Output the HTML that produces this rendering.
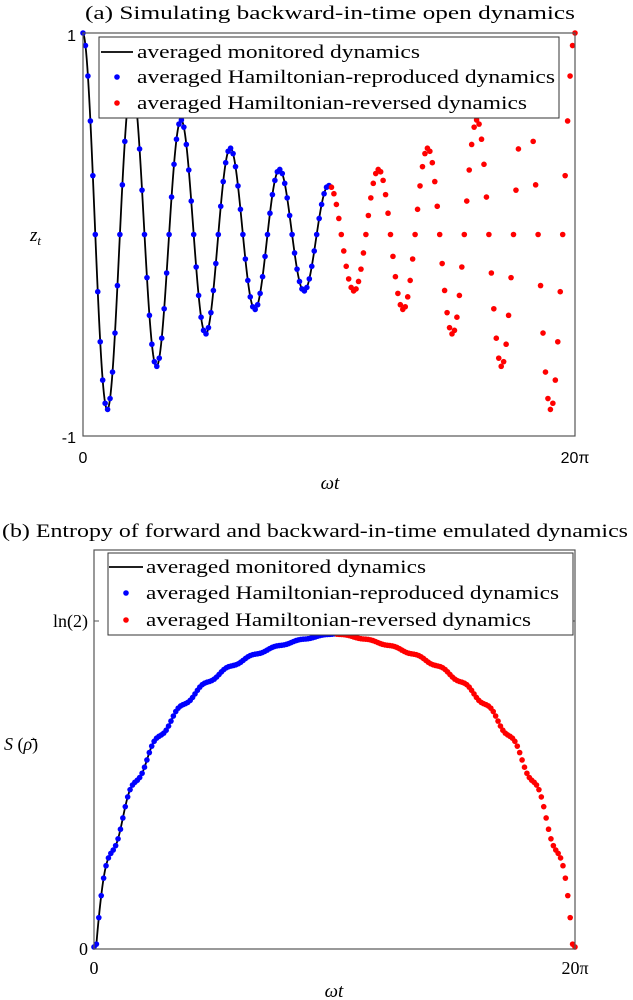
<!DOCTYPE html>
<html><head><meta charset="utf-8"><style>
html,body{margin:0;padding:0;background:#fff;}
svg{display:block;}
text{font-family:"Liberation Serif",serif;fill:#000;}
.s{font-family:"Liberation Sans",sans-serif;}
</style></head><body>
<svg id="c" width="633" height="1000" viewBox="0 0 633 1000" xmlns="http://www.w3.org/2000/svg">
<rect width="633" height="1000" fill="#fff"/>
<text x="330" y="19" font-size="19" text-anchor="middle" textLength="490" lengthAdjust="spacingAndGlyphs">(a) Simulating backward-in-time open dynamics</text>
<text x="2" y="537" font-size="19" textLength="626" lengthAdjust="spacingAndGlyphs">(b) Entropy of forward and backward-in-time emulated dynamics</text>
<g id="top"></g><g id="bot"></g>
<rect x="83" y="33" width="492" height="403" fill="none" stroke="#555" stroke-width="1.2"/>
<text class="s" x="76" y="41" font-size="16" text-anchor="end">1</text>
<text class="s" x="76" y="443" font-size="16" text-anchor="end">-1</text>
<text class="s" x="83" y="463" font-size="16" text-anchor="middle">0</text>
<text class="s" x="575" y="463" font-size="16" text-anchor="middle">20π</text>
<text x="330" y="489" font-size="19" font-style="italic" text-anchor="middle">ωt</text>
<text x="30" y="241" font-size="19" font-style="italic">z<tspan font-size="13" dy="4">t</tspan></text>
<rect x="99" y="37" width="460" height="81" fill="#fff" stroke="#333" stroke-width="1"/>
<line x1="101" y1="52" x2="133" y2="52" stroke="#000" stroke-width="1.8"/>
<circle cx="117" cy="77" r="2.8" fill="#0000ff"/>
<circle cx="117" cy="103" r="2.8" fill="#ff0000"/>
<text x="137" y="58" font-size="19" textLength="283" lengthAdjust="spacingAndGlyphs">averaged monitored dynamics</text>
<text x="137" y="83" font-size="19" textLength="418" lengthAdjust="spacingAndGlyphs">averaged Hamiltonian-reproduced dynamics</text>
<text x="137" y="109" font-size="19" textLength="390" lengthAdjust="spacingAndGlyphs">averaged Hamiltonian-reversed dynamics</text>
<rect x="94" y="550" width="481" height="399" fill="none" stroke="#555" stroke-width="1.2"/>
<line x1="94" y1="621" x2="99" y2="621" stroke="#555"/><line x1="570" y1="621" x2="575" y2="621" stroke="#555"/>
<text x="88" y="627" font-size="18" text-anchor="end">ln(2)</text>
<text x="88" y="955" font-size="18" text-anchor="end">0</text>
<text x="94" y="974" font-size="18" text-anchor="middle">0</text>
<text x="575" y="974" font-size="18" text-anchor="middle">20π</text>
<text x="334" y="997" font-size="19" font-style="italic" text-anchor="middle">ωt</text>
<text x="4" y="750" font-size="18"><tspan font-style="italic">S</tspan> (<tspan font-style="italic">ρ̄</tspan>)</text>
<rect x="108" y="553" width="465" height="82" fill="#fff" stroke="#333" stroke-width="1"/>
<line x1="109" y1="567" x2="143" y2="567" stroke="#000" stroke-width="1.8"/>
<circle cx="126" cy="593" r="2.8" fill="#0000ff"/>
<circle cx="126" cy="620" r="2.8" fill="#ff0000"/>
<text x="146" y="573" font-size="19" textLength="280" lengthAdjust="spacingAndGlyphs">averaged monitored dynamics</text>
<text x="146" y="599" font-size="19" textLength="413" lengthAdjust="spacingAndGlyphs">averaged Hamiltonian-reproduced dynamics</text>
<text x="146" y="626" font-size="19" textLength="385" lengthAdjust="spacingAndGlyphs">averaged Hamiltonian-reversed dynamics</text>
</svg>
<script>
(function(){
var NS="http://www.w3.org/2000/svg",P=Math.PI;
function A(t){return Math.exp(-0.045*t);}
function zf(t){return t<=10*P? A(t)*Math.cos(t) : A(20*P-t)*Math.cos(20*P-t);}
function rf(t){var s=t<=10*P?t:20*P-t;return Math.min(0.999,Math.exp(-0.047*s)*(1+0.015*Math.cos(2*s)));}
function Sf(t){var r=rf(t),p=(1+r)/2,q=(1-r)/2;return -(p*Math.log(p)+q*Math.log(q));}
function el(g,n,a){var e=document.createElementNS(NS,n);for(var k in a)e.setAttribute(k,a[k]);g.appendChild(e);return e;}
var top=document.getElementById('top'),bot=document.getElementById('bot');
function tx(t){return 83+t/(20*P)*492;} function ty(z){return 234.5-z*201.5;}
function bx(t){return 94+t/(20*P)*481;} function by(s){return 949-s/Math.log(2)*328;}
var d1="",d2="";
for(var i=0;i<=400;i++){var t=i/400*10*P;d1+=(i?"L":"M")+tx(t).toFixed(2)+" "+ty(zf(t)).toFixed(2);d2+=(i?"L":"M")+bx(t).toFixed(2)+" "+by(Sf(t)).toFixed(2);}
el(top,'path',{d:d1,fill:'none',stroke:'#000','stroke-width':1.8});
el(bot,'path',{d:d2,fill:'none',stroke:'#000','stroke-width':1.8});
var N=100;
for(var i=0;i<=2*N;i++){var t=i/N*10*P,c=i<=N?'#0000ff':'#ff0000';
 el(top,'circle',{cx:tx(t),cy:ty(zf(t)),r:2.8,fill:c});
 el(bot,'circle',{cx:bx(t),cy:by(Sf(t)),r:2.8,fill:c});}
})();
</script>
</body></html>
